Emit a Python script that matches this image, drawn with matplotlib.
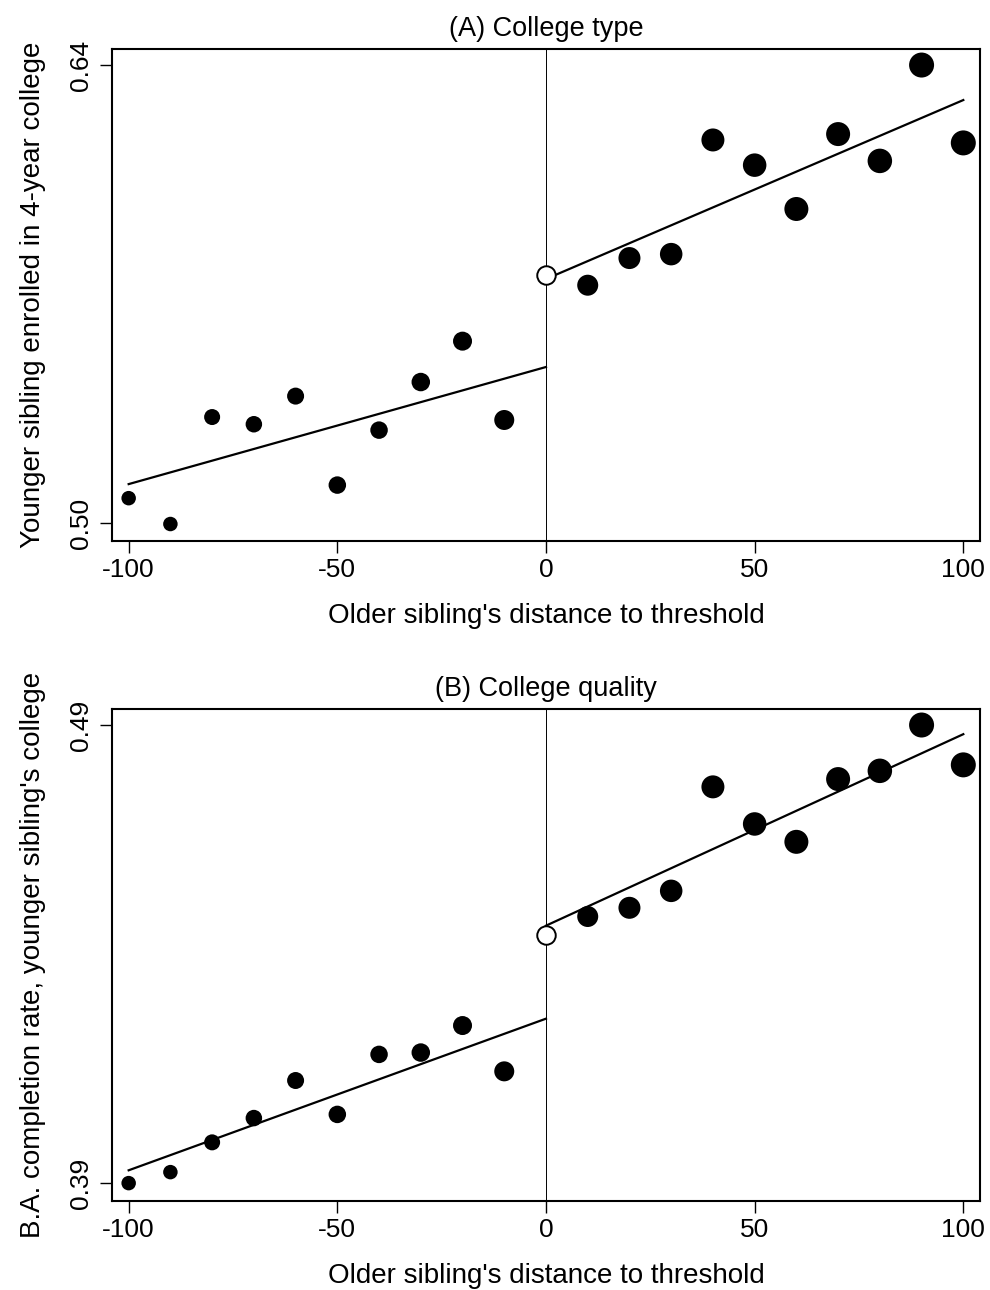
import matplotlib
matplotlib.use('Agg')
import matplotlib.pyplot as plt
import numpy as np

plt.rcParams['font.family'] = ['Liberation Sans', 'DejaVu Sans']

# bins of older sibling's distance to threshold
bins_left = [-100, -90, -80, -70, -60, -50, -40, -30, -20, -10]
bins_right = [10, 20, 30, 40, 50, 60, 70, 80, 90, 100]
# relative bin weight (marker diameter, px)
weight_left = [14.5, 14.5, 16, 16.5, 17, 17.5, 17.5, 18.5, 19, 20]
weight_right = [21, 22, 22.5, 23, 23.5, 24, 24, 24.5, 25, 25]

# (A) college type
a_left = [0.5076, 0.4997, 0.5324, 0.5302, 0.5388, 0.5116, 0.5284, 0.5431, 0.5556, 0.5315]
a_right = [0.5727, 0.5810, 0.5822, 0.6171, 0.6094, 0.5960, 0.6189, 0.6107, 0.6400, 0.6162]
a_cut = 0.5758
a_fit_left = [0.5119, 0.5477]
a_fit_right = [0.5746, 0.6293]

# (B) college quality
b_left = [0.3900, 0.3924, 0.3989, 0.4042, 0.4124, 0.4050, 0.4181, 0.4185, 0.4244, 0.4144]
b_right = [0.4482, 0.4501, 0.4538, 0.4765, 0.4684, 0.4645, 0.4782, 0.4800, 0.4900, 0.4813]
b_cut = 0.4442
b_fit_left = [0.3928, 0.4259]
b_fit_right = [0.4462, 0.4880]

xticks = [-100, -50, 0, 50, 100]


def panel(ax, left, right, cut, fl, fr, title, ylabel, yticks, ylim):
    s_left = (np.array(weight_left) * 0.72) ** 2
    s_right = (np.array(weight_right) * 0.72) ** 2
    ax.axvline(0, color='black', lw=0.7, zorder=1)
    ax.plot([-100, 0], fl, color='black', lw=1.6, zorder=2)
    ax.plot([0, 100], fr, color='black', lw=1.6, zorder=2)
    ax.scatter(bins_left, left, s=s_left, color='black', lw=0, zorder=3)
    ax.scatter(bins_right, right, s=s_right, color='black', lw=0, zorder=3)
    ax.scatter([0], [cut], s=(18.5 * 0.72) ** 2, facecolor='white',
               edgecolor='black', lw=1.4, zorder=4)
    ax.set_xlim(-104, 104)
    ax.set_ylim(*ylim)
    ax.set_xticks(xticks)
    ax.set_xticklabels([str(t) for t in xticks], fontsize=19)
    ax.set_yticks(yticks)
    ax.set_yticklabels(['%.2f' % t for t in yticks], fontsize=19,
                       rotation=90, va='center')
    ax.tick_params(length=8.5, width=1.0)
    ax.tick_params(axis='x', pad=4)
    ax.tick_params(axis='y', pad=5)
    for sp in ax.spines.values():
        sp.set_linewidth(1.5)
    ax.set_title(title, fontsize=19.5, pad=9.5)
    ax.set_xlabel("Older sibling's distance to threshold", fontsize=20, labelpad=15)
    ax.set_ylabel(ylabel, fontsize=20, labelpad=17)


fig = plt.figure(figsize=(9.9, 12.9), dpi=100)
ax1 = fig.add_axes([0.1131, 0.5806, 0.8768, 0.3814])
ax2 = fig.add_axes([0.1131, 0.0690, 0.8768, 0.3814])

panel(ax1, a_left, a_right, a_cut, a_fit_left, a_fit_right,
      '(A) College type', 'Younger sibling enrolled in 4-year college',
      [0.50, 0.64], (0.4945, 0.6449))
panel(ax2, b_left, b_right, b_cut, b_fit_left, b_fit_right,
      '(B) College quality', "B.A. completion rate, younger sibling's college",
      [0.39, 0.49], (0.3861, 0.4935))

fig.savefig('out.png', dpi=100)
